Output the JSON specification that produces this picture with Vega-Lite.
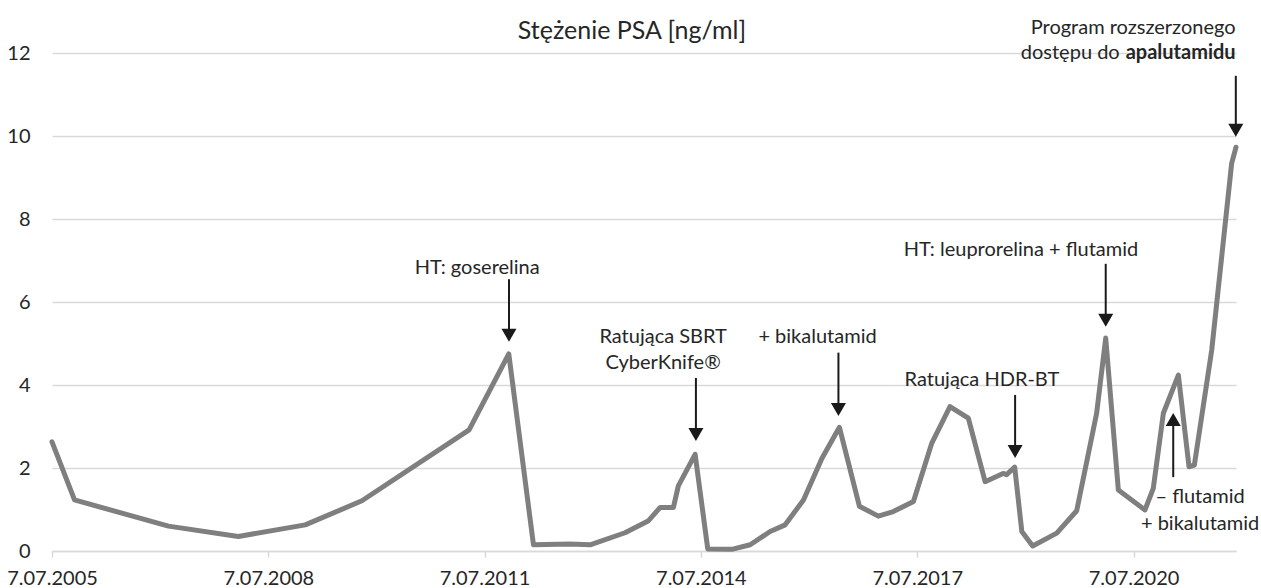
{
  "$schema": "https://vega.github.io/schema/vega-lite/v6.json",
  "width": 1184,
  "height": 498,
  "autosize": {"type": "none"},
  "padding": {"left": 52, "top": 53, "right": 25, "bottom": 37},
  "background": "white",
  "title": {
    "text": "Stężenie PSA [ng/ml]",
    "font": "Lato",
    "fontSize": 25,
    "fontWeight": "normal",
    "color": "#262626",
    "anchor": "middle",
    "frame": "group",
    "dx": -12,
    "dy": 36,
    "offset": 10
  },
  "config": {
    "view": {"stroke": null},
    "font": "Lato",
    "text": {"font": "Lato", "fontSize": 20, "color": "#262626"}
  },
  "datasets": {
    "psa": [
      {"date": "2005-07-07T00:00:00", "value": 2.63},
      {"date": "2005-10-29T00:00:00", "value": 1.23},
      {"date": "2007-02-17T00:00:00", "value": 0.60},
      {"date": "2008-02-06T00:00:00", "value": 0.35},
      {"date": "2009-01-10T00:00:00", "value": 0.63},
      {"date": "2009-10-24T00:00:00", "value": 1.21},
      {"date": "2011-04-20T00:00:00", "value": 2.92},
      {"date": "2011-11-07T00:00:00", "value": 4.75},
      {"date": "2012-03-11T00:00:00", "value": 0.15},
      {"date": "2012-09-13T00:00:00", "value": 0.17},
      {"date": "2012-12-23T00:00:00", "value": 0.15},
      {"date": "2013-06-18T00:00:00", "value": 0.44},
      {"date": "2013-10-15T00:00:00", "value": 0.73},
      {"date": "2013-12-13T00:00:00", "value": 1.05},
      {"date": "2014-02-18T00:00:00", "value": 1.05},
      {"date": "2014-03-15T00:00:00", "value": 1.57},
      {"date": "2014-06-08T00:00:00", "value": 2.33},
      {"date": "2014-08-11T00:00:00", "value": 0.05},
      {"date": "2014-12-11T00:00:00", "value": 0.04},
      {"date": "2015-03-14T00:00:00", "value": 0.15},
      {"date": "2015-06-23T00:00:00", "value": 0.47},
      {"date": "2015-09-07T00:00:00", "value": 0.63},
      {"date": "2015-12-09T00:00:00", "value": 1.23},
      {"date": "2016-03-11T00:00:00", "value": 2.23},
      {"date": "2016-06-08T00:00:00", "value": 2.98},
      {"date": "2016-09-17T00:00:00", "value": 1.08},
      {"date": "2016-12-22T00:00:00", "value": 0.84},
      {"date": "2017-03-08T00:00:00", "value": 0.95},
      {"date": "2017-06-18T00:00:00", "value": 1.19},
      {"date": "2017-09-19T00:00:00", "value": 2.60},
      {"date": "2017-12-20T00:00:00", "value": 3.48},
      {"date": "2018-03-23T00:00:00", "value": 3.20},
      {"date": "2018-06-16T00:00:00", "value": 1.67},
      {"date": "2018-09-15T00:00:00", "value": 1.87},
      {"date": "2018-10-03T00:00:00", "value": 1.84},
      {"date": "2018-11-13T00:00:00", "value": 2.02},
      {"date": "2018-12-19T00:00:00", "value": 0.47},
      {"date": "2019-02-12T00:00:00", "value": 0.12},
      {"date": "2019-06-14T00:00:00", "value": 0.43},
      {"date": "2019-09-23T00:00:00", "value": 0.97},
      {"date": "2020-01-02T00:00:00", "value": 3.32},
      {"date": "2020-02-17T00:00:00", "value": 5.13},
      {"date": "2020-04-21T00:00:00", "value": 1.47},
      {"date": "2020-09-03T00:00:00", "value": 0.99},
      {"date": "2020-10-15T00:00:00", "value": 1.51},
      {"date": "2020-12-05T00:00:00", "value": 3.32},
      {"date": "2021-02-19T00:00:00", "value": 4.24},
      {"date": "2021-04-14T00:00:00", "value": 2.03},
      {"date": "2021-05-11T00:00:00", "value": 2.07},
      {"date": "2021-08-07T00:00:00", "value": 4.84},
      {"date": "2021-11-16T00:00:00", "value": 9.34},
      {"date": "2021-12-08T00:00:00", "value": 9.73}
    ],
    "arrows": [
      {"date": "2011-11-08T00:00:00", "from": 6.55, "to": 5.20, "dir": "down"},
      {"date": "2014-06-12T00:00:00", "from": 4.17, "to": 2.81, "dir": "down"},
      {"date": "2016-06-03T00:00:00", "from": 4.78, "to": 3.41, "dir": "down"},
      {"date": "2018-11-15T00:00:00", "from": 3.76, "to": 2.40, "dir": "down"},
      {"date": "2020-02-17T00:00:00", "from": 6.92, "to": 5.56, "dir": "down"},
      {"date": "2021-12-07T00:00:00", "from": 11.45, "to": 10.14, "dir": "down"},
      {"date": "2021-01-24T00:00:00", "from": 1.78, "to": 3.17, "dir": "up"}
    ],
    "notes": [
      {"date": "2011-05-31T00:00:00", "value": 6.82, "text": "HT: goserelina"},
      {"date": "2013-12-28T00:00:00", "value": 5.16, "text": "Ratująca SBRT"},
      {"date": "2013-12-28T00:00:00", "value": 4.53, "text": "CyberKnife®"},
      {"date": "2016-02-18T00:00:00", "value": 5.16, "text": "+ bikalutamid"},
      {"date": "2018-05-31T00:00:00", "value": 4.12, "text": "Ratująca HDR-BT"},
      {"date": "2018-12-15T00:00:00", "value": 7.25, "text": "HT: leuprorelina + flutamid"},
      {"date": "2020-07-05T00:00:00", "value": 12.60, "text": "Program rozszerzonego"},
      {"date": "2021-06-09T00:00:00", "value": 1.30, "text": "– flutamid"},
      {"date": "2021-06-09T00:00:00", "value": 0.65, "text": "+ bikalutamid"}
    ],
    "notesLead": [
      {"date": "2020-05-13T00:00:00", "value": 12.0, "text": "dostępu do"}
    ],
    "notesBold": [
      {"date": "2020-05-13T00:00:00", "value": 12.0, "text": "apalutamidu"}
    ]
  },
  "encoding": {
    "x": {
      "field": "date",
      "type": "temporal",
      "scale": {
        "domain": [
          {"year": 2005, "month": 7, "date": 7},
          {"year": 2021, "month": 12, "date": 8}
        ],
        "nice": false
      },
      "axis": {
        "title": null,
        "values": [
          {"year": 2005, "month": 7, "date": 7},
          {"year": 2008, "month": 7, "date": 7},
          {"year": 2011, "month": 7, "date": 7},
          {"year": 2014, "month": 7, "date": 7},
          {"year": 2017, "month": 7, "date": 7},
          {"year": 2020, "month": 7, "date": 7}
        ],
        "format": "%-d.%m.%Y",
        "labelFont": "Lato",
        "labelFontSize": 20,
        "labelColor": "#262626",
        "labelPadding": 11,
        "labelOverlap": false,
        "labelFlush": false,
        "labelBound": false,
        "domainColor": "#d9d9d9",
        "domainWidth": 1.5,
        "tickColor": "#d9d9d9",
        "tickSize": 6,
        "tickWidth": 1.5,
        "grid": false
      }
    }
  },
  "layer": [
    {
      "data": {"name": "psa"},
      "mark": {"type": "line", "color": "#7f7f7f", "strokeWidth": 5, "strokeJoin": "round", "strokeCap": "round"},
      "encoding": {
        "y": {
          "field": "value",
          "type": "quantitative",
          "scale": {"domain": [0, 12], "nice": false, "zero": true},
          "axis": {
            "title": null,
            "values": [0, 2, 4, 6, 8, 10, 12],
            "labelFont": "Lato",
            "labelFontSize": 20,
            "labelColor": "#262626",
            "labelPadding": 22,
            "domain": false,
            "ticks": false,
            "grid": true,
            "gridColor": "#d9d9d9",
            "gridWidth": 1.5
          }
        }
      }
    },
    {
      "data": {"name": "arrows"},
      "mark": {"type": "rule", "color": "#1a1a1a", "strokeWidth": 2},
      "encoding": {
        "y": {"field": "from", "type": "quantitative", "axis": {"title": null}},
        "y2": {"field": "to"}
      }
    },
    {
      "data": {"name": "arrows"},
      "transform": [{"filter": "datum.dir === 'down'"}],
      "mark": {"type": "point", "shape": "triangle-down", "size": 225, "filled": true, "opacity": 1, "color": "#1a1a1a"},
      "encoding": {
        "y": {"field": "to", "type": "quantitative", "axis": {"title": null}}
      }
    },
    {
      "data": {"name": "arrows"},
      "transform": [{"filter": "datum.dir === 'up'"}],
      "mark": {"type": "point", "shape": "triangle-up", "size": 225, "filled": true, "opacity": 1, "color": "#1a1a1a"},
      "encoding": {
        "y": {"field": "to", "type": "quantitative", "axis": {"title": null}}
      }
    },
    {
      "data": {"name": "notes"},
      "mark": {"type": "text", "align": "center", "baseline": "middle"},
      "encoding": {
        "y": {"field": "value", "type": "quantitative", "axis": {"title": null}},
        "text": {"field": "text"}
      }
    },
    {
      "data": {"name": "notesLead"},
      "mark": {"type": "text", "align": "right", "baseline": "middle", "dx": -3},
      "encoding": {
        "y": {"field": "value", "type": "quantitative", "axis": {"title": null}},
        "text": {"field": "text"}
      }
    },
    {
      "data": {"name": "notesBold"},
      "mark": {"type": "text", "align": "left", "baseline": "middle", "dx": 3, "fontWeight": "bold"},
      "encoding": {
        "y": {"field": "value", "type": "quantitative", "axis": {"title": null}},
        "text": {"field": "text"}
      }
    }
  ]
}
